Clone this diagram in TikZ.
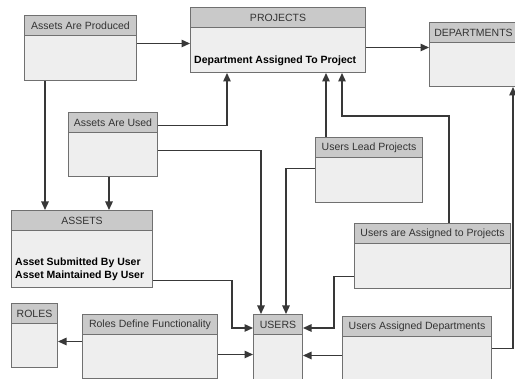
\documentclass[tikz,border=0pt]{standalone}
\usepackage{fontspec}
\setmainfont{Liberation Sans}
\usetikzlibrary{arrows.meta}
\definecolor{headgray}{HTML}{C9C9C9}
\definecolor{bodygray}{HTML}{EEEEEE}
\definecolor{boxline}{HTML}{707070}
\definecolor{linegray}{HTML}{383838}
\tikzset{entity/.style={draw=boxline,fill=bodygray,line width=1pt,anchor=north west,inner sep=0pt},
	head/.style={draw=boxline,fill=headgray,line width=1pt,anchor=north west,inner sep=0pt,
		minimum height=20pt,text=black!80,font=\fontsize{10.5}{12}\selectfont},
	bodytxt/.style={anchor=west,inner sep=0pt,align=left,font=\fontsize{10.5}{13}\selectfont\bfseries},
	conn/.style={draw=linegray,line width=1.3pt,-{Triangle[length=8.5pt,width=7.5pt]}}}

\begin{document}
\begin{tikzpicture}[x=1pt,y=-1pt]
				      \clip (0,0) rectangle (515,379);
				      \fill[white] (0,0) rectangle (515,379);

				      \node[entity,minimum width=112pt,minimum height=65pt] (app) at (24,15) {};
				      \node[head,minimum width=112pt] (apphead) at (app.north west) {Assets Are Produced};
				      \node[entity,minimum width=175pt,minimum height=65pt] (proj) at (190,7) {};
				      \node[head,minimum width=175pt] (projhead) at (proj.north west) {PROJECTS};
				      \node[bodytxt] (projtxt) at (194,61) {Department Assigned To Project};
				      \node[entity,minimum width=88pt,minimum height=64pt] (dept) at (429,22) {};
				      \node[head,minimum width=88pt] (depthead) at (dept.north west) {DEPARTMENTS};
				      \node[entity,minimum width=89pt,minimum height=64pt] (aau) at (68,112) {};
				      \node[head,minimum width=89pt] (aauhead) at (aau.north west) {Assets Are Used};
				      \node[entity,minimum width=107pt,minimum height=65pt] (ulp) at (315,137) {};
				      \node[head,minimum width=107pt] (ulphead) at (ulp.north west) {Users Lead Projects};
				      \node[entity,minimum width=141pt,minimum height=77pt] (assets) at (11,210) {};
				      \node[head,minimum width=141pt] (assetshead) at (assets.north west) {ASSETS};
				      \node[bodytxt] (assetstxt) at (15,269.5) {Asset Submitted By User\\Asset Maintained By User};
				      \node[entity,minimum width=156pt,minimum height=65pt] (uap) at (354,223) {};
				      \node[head,minimum width=156pt] (uaphead) at (uap.north west) {Users are Assigned to Projects};
				      \node[entity,minimum width=46pt,minimum height=64pt] (roles) at (11,303) {};
				      \node[head,minimum width=46pt] (roleshead) at (roles.north west) {ROLES};
				      \node[entity,minimum width=135pt,minimum height=64pt] (rdf) at (82,314) {};
				      \node[head,minimum width=135pt] (rdfhead) at (rdf.north west) {Roles Define Functionality};
				      \node[entity,minimum width=49pt,minimum height=70pt] (users) at (253,314) {};
				      \node[head,minimum width=49pt] (usershead) at (users.north west) {USERS};
				      \node[entity,minimum width=149pt,minimum height=74pt] (uad) at (342,316) {};
				      \node[head,minimum width=149pt] (uadhead) at (uad.north west) {Users Assigned Departments};

				      \path[conn] ([yshift=4.5pt]app.east) -- ([yshift=4.5pt]app.east -| proj.west);
				      \path[conn] ([xshift=21pt]app.south west) -- ([xshift=21pt]app.south west |- assets.north);
				      \path[conn] ([xshift=41pt]aau.south west) -- ([xshift=41pt]aau.south west |- assets.north);
				      \path[conn] ([yshift=19pt]aau.east) -| ([xshift=37pt]proj.south west);
				      \path[conn] ([yshift=-6pt]aau.east) -| ([xshift=8pt]users.north west);
				      \path[conn] ([xshift=11pt]ulp.north west) -- ([xshift=11pt]ulp.north west |- proj.south);
				      \path[conn] ([yshift=1.5pt]ulp.west) -| ([xshift=33pt]users.north west);
				      \path[conn] ([xshift=95pt]uap.north west) |- ([xshift=152pt,yshift=-43pt]proj.south west) -- ([xshift=152pt]proj.south west);
				      \path[conn] ([yshift=-7.5pt]proj.east) -- ([yshift=-7.5pt]proj.east -| dept.west);
				      \path[conn] ([yshift=-31.5pt]assets.east) -| ([xshift=-21pt,yshift=-14pt]users.north west) -- ([yshift=-14pt]users.north west);
				      \path[conn] ([yshift=5pt]rdf.west) -- ([yshift=5pt]rdf.west -| roles.east);
				      \path[conn] ([yshift=-8pt]rdf.east) -- ([yshift=-8pt]rdf.east -| users.west);
				      \path[conn] ([yshift=-20.5pt]uap.west) -| ([xshift=31pt,yshift=-14pt]users.north east) -- ([yshift=-14pt]users.north east);
				      \path[conn] ([yshift=-2pt]uad.west) -- ([yshift=-2pt]uad.west -| users.east);
				      \path[conn] ([yshift=5pt]uad.east) -| ([xshift=84pt]dept.south west);
			      \end{tikzpicture}
\end{document}
